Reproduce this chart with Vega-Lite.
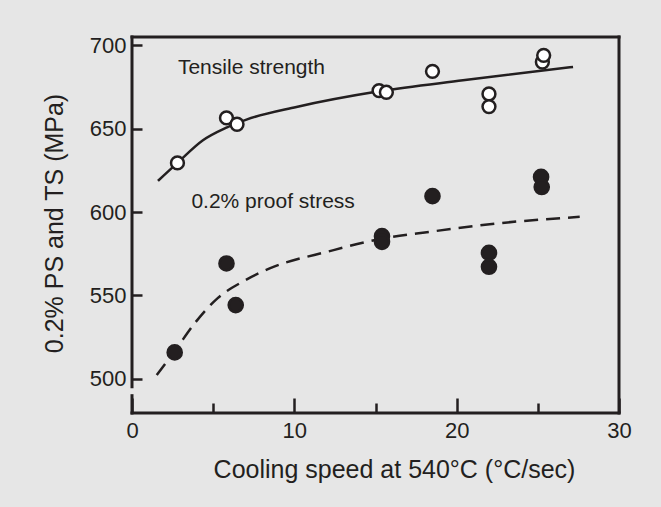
{
  "$schema": "https://vega.github.io/schema/vega-lite/v6.json",
  "width": 487,
  "height": 376,
  "autosize": {"type": "none"},
  "padding": {"left": 132, "top": 37, "right": 42, "bottom": 94},
  "background": "#e6e6e6",
  "config": {
    "view": {"stroke": null},
    "font": "Liberation Sans",
    "axis": {"grid": false, "domain": false, "tickColor": "#231f20", "tickWidth": 2.5, "labelColor": "#231f20", "titleColor": "#231f20", "labelFont": "Liberation Sans", "titleFont": "Liberation Sans", "titleFontWeight": "normal"}
  },
  "datasets": {
    "frame": [
      {"x": 0, "x2": 30, "y": 705.1, "y2": 705.1},
      {"x": 30, "x2": 30, "y": 479.3, "y2": 705.1},
      {"x": 0, "x2": 0, "y": 495.1, "y2": 705.1},
      {"x": 0, "x2": 0, "y": 479.3, "y2": 489.7},
      {"x": 0, "x2": 30, "y": 479.3, "y2": 479.3}
    ],
    "ts_curve": [
      {"x": 1.6, "y": 618.7},
      {"x": 2.8, "y": 629.5},
      {"x": 4.37, "y": 643.1},
      {"x": 5.82, "y": 650.7},
      {"x": 7.05, "y": 655.5},
      {"x": 10.13, "y": 663.1},
      {"x": 15.22, "y": 672.5},
      {"x": 20.39, "y": 679.1},
      {"x": 27.17, "y": 687.1}
    ],
    "ps_curve": [
      {"x": 1.52, "y": 502.1},
      {"x": 2.63, "y": 516.5},
      {"x": 3.92, "y": 533.9},
      {"x": 5.28, "y": 548.3},
      {"x": 6.82, "y": 558.2},
      {"x": 8.48, "y": 566.1},
      {"x": 12.18, "y": 576.5},
      {"x": 15.38, "y": 584.0},
      {"x": 18.34, "y": 588.1},
      {"x": 22.46, "y": 593.1},
      {"x": 27.58, "y": 597.1}
    ],
    "points": [
      {"s": "TS", "x": 2.8, "y": 629.5},
      {"s": "TS", "x": 5.82, "y": 656.5},
      {"s": "TS", "x": 6.47, "y": 652.7},
      {"s": "TS", "x": 15.22, "y": 672.9},
      {"s": "TS", "x": 15.67, "y": 671.9},
      {"s": "TS", "x": 18.51, "y": 684.5},
      {"s": "TS", "x": 21.99, "y": 670.9},
      {"s": "TS", "x": 21.99, "y": 663.3},
      {"s": "TS", "x": 25.28, "y": 690.1},
      {"s": "TS", "x": 25.36, "y": 694.1},
      {"s": "PS", "x": 2.63, "y": 515.7},
      {"s": "PS", "x": 5.82, "y": 569.1},
      {"s": "PS", "x": 6.39, "y": 544.1},
      {"s": "PS", "x": 15.4, "y": 585.5},
      {"s": "PS", "x": 15.4, "y": 582.1},
      {"s": "PS", "x": 18.51, "y": 609.5},
      {"s": "PS", "x": 21.99, "y": 575.5},
      {"s": "PS", "x": 21.99, "y": 567.1},
      {"s": "PS", "x": 25.2, "y": 621.1},
      {"s": "PS", "x": 25.24, "y": 615.0}
    ],
    "labels": [
      {"x": 2.83, "y": 683.1, "t": "Tensile strength"},
      {"x": 3.66, "y": 602.7, "t": "0.2% proof stress"}
    ]
  },
  "encoding": {
    "x": {
      "field": "x", "type": "quantitative",
      "scale": {"domain": [0, 30], "nice": false, "zero": false},
      "axis": {
        "title": "Cooling speed at 540°C (°C/sec)",
        "values": [0, 5, 10, 15, 20, 25, 30],
        "tickSize": {"condition": {"test": "datum.value % 10 === 0", "value": -15}, "value": -10},
        "labelExpr": "datum.value % 10 === 0 ? datum.label : ''",
        "labelFontSize": 22,
        "labelPadding": 22,
        "labelFlush": false,
        "titleFontSize": 25,
        "titleX": 262,
        "titleY": 64,
        "titleAlign": "center",
        "titleBaseline": "alphabetic"
      }
    },
    "y": {
      "field": "y", "type": "quantitative",
      "scale": {"domain": [479.3, 705.1], "nice": false, "zero": false},
      "axis": {
        "title": "0.2% PS and TS (MPa)",
        "values": [500, 550, 600, 650, 700],
        "tickSize": -10,
        "labelFontSize": 22,
        "labelPadding": 16,
        "labelFlush": false,
        "titleFontSize": 25,
        "titleX": -70,
        "titleY": 186,
        "titleAngle": -90,
        "titleAlign": "center",
        "titleBaseline": "alphabetic"
      }
    }
  },
  "layer": [
    {
      "data": {"name": "frame"},
      "mark": {"type": "rule", "color": "#231f20", "strokeWidth": 3, "strokeCap": "square"},
      "encoding": {"x2": {"field": "x2"}, "y2": {"field": "y2"}}
    },
    {
      "data": {"name": "ts_curve"},
      "mark": {"type": "line", "interpolate": "monotone", "color": "#231f20", "strokeWidth": 2.5}
    },
    {
      "data": {"name": "ps_curve"},
      "mark": {"type": "line", "interpolate": "monotone", "color": "#231f20", "strokeWidth": 2.5, "strokeDash": [14, 8]}
    },
    {
      "data": {"name": "points"},
      "mark": {"type": "point", "shape": "circle", "filled": false, "stroke": "#231f20", "strokeWidth": 2.5, "opacity": 1},
      "encoding": {
        "fill": {"field": "s", "type": "nominal", "scale": {"domain": ["TS", "PS"], "range": ["#ffffff", "#231f20"]}, "legend": null},
        "size": {"field": "s", "type": "nominal", "scale": {"domain": ["TS", "PS"], "range": [165, 200]}, "legend": null}
      }
    },
    {
      "data": {"name": "labels"},
      "mark": {"type": "text", "align": "left", "baseline": "alphabetic", "fontSize": 21, "font": "Liberation Sans", "color": "#231f20"},
      "encoding": {"text": {"field": "t", "type": "nominal"}}
    }
  ]
}
